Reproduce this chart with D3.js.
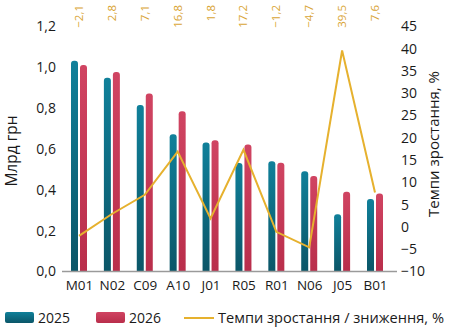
<!DOCTYPE html>
<html><head><meta charset="utf-8">
<script src="https://cdn.jsdelivr.net/npm/d3@7"></script>
<style>body{margin:0;background:#fff}svg{display:block;font-family:"Open Sans",sans-serif}</style>
</head><body><svg id="c" width="449" height="331"></svg>
<script>
const categories = ["M01","N02","C09","A10","J01","R05","R01","N06","J05","B01"];
const values2025 = [1.03,0.947,0.813,0.67,0.63,0.529,0.537,0.488,0.278,0.353];
const values2026 = [1.009,0.975,0.87,0.782,0.64,0.62,0.53,0.465,0.388,0.38];
const growth = [-2.1,2.8,7.1,16.8,1.8,17.2,-1.2,-4.7,39.5,7.6];
const leftTicks = [0,0.2,0.4,0.6,0.8,1.0,1.2];
const rightTicks = [-10,-5,0,5,10,15,20,25,30,35,40,45];
const seriesNames = ["2025","2026"];
const lineName = "Темпи зростання / зниження, %";

const svg = d3.select("#c");
const fmt = v => d3.format(".1f")(v).replace(".",",").replace("-","−");
const fmtInt = v => String(v).replace("-","−");

const x = d3.scalePoint().domain(categories).range([79,375]);
const y = d3.scaleLinear().domain([0,1.2]).range([271,26]);
const y2 = d3.scaleLinear().domain([-10,45]).range([271,26]);

const defs = svg.append("defs");
function grad(id, top, bot){
  const g = defs.append("linearGradient").attr("id",id).attr("x1",0).attr("y1",0).attr("x2",0).attr("y2",1);
  g.append("stop").attr("offset","0%").attr("stop-color",top);
  g.append("stop").attr("offset","100%").attr("stop-color",bot);
}
grad("gT","#10809a","#0b5668");
grad("gR","#d04462","#b92e4b");

const bw = 7, r = 3;
function barPath(x0, yTop, yBot){
  return `M${x0},${yBot}V${yTop+r}Q${x0},${yTop} ${x0+r},${yTop}H${x0+bw-r}Q${x0+bw},${yTop} ${x0+bw},${yTop+r}V${yBot}Z`;
}
const bars = svg.append("g");
categories.forEach((c,i)=>{
  const cx = x(c);
  bars.append("path").attr("d", barPath(cx-8, y(values2025[i]), y(0))).attr("fill","url(#gT)");
  bars.append("path").attr("d", barPath(cx+1, y(values2026[i]), y(0))).attr("fill","url(#gR)");
});

// baseline
svg.append("line").attr("x1",62).attr("x2",397).attr("y1",y(0)+0.5).attr("y2",y(0)+0.5)
  .attr("stroke","#9a9a9a").attr("stroke-width",1.5);

// line
svg.append("path").datum(growth)
  .attr("d", d3.line().x((d,i)=>x(categories[i])).y(d=>y2(d)))
  .attr("fill","none").attr("stroke","#e6b12e").attr("stroke-width",2);

// top labels
svg.append("g").selectAll("text").data(growth).join("text")
  .attr("transform",(d,i)=>`translate(${x(categories[i])+4},5) rotate(-90)`)
  .attr("text-anchor","end").attr("font-size",11.5).attr("fill","#d9a535")
  .text(d=>fmt(d));

// left axis
const la = svg.append("g").attr("transform","translate(62,0)")
  .call(d3.axisLeft(y).tickValues(leftTicks).tickSize(0).tickPadding(6).tickFormat(fmt));
la.select(".domain").remove();
la.selectAll("text").attr("font-size",14).attr("fill","#1a1a1a").attr("font-family","Open Sans").attr("dy","0.35em");

// right axis
const ra = svg.append("g").attr("transform","translate(397,0)")
  .call(d3.axisRight(y2).tickValues(rightTicks).tickSize(0).tickPadding(4).tickFormat(fmtInt));
ra.select(".domain").remove();
ra.selectAll("text").attr("font-size",14).attr("fill","#1a1a1a").attr("font-family","Open Sans").attr("dy","0.35em");

// x axis labels
const xa = svg.append("g").attr("transform",`translate(0,${y(0)})`)
  .call(d3.axisBottom(x).tickSize(0).tickPadding(9));
xa.select(".domain").remove();
xa.selectAll("text").attr("font-size",13.5).attr("fill","#1a1a1a").attr("font-family","Open Sans").attr("dy","0.71em");

// axis titles
svg.append("text").attr("transform","translate(17,151) rotate(-90)").attr("text-anchor","middle")
  .attr("font-size",15.5).attr("fill","#1a1a1a").text("Млрд грн");
svg.append("text").attr("transform","translate(439,144) rotate(-90)").attr("text-anchor","middle")
  .attr("font-size",15).attr("fill","#1a1a1a").text("Темпи зростання, %");

// legend
const lg = svg.append("g");
lg.append("rect").attr("x",5).attr("y",312).attr("width",29).attr("height",11).attr("rx",2).attr("fill","url(#gT)");
lg.append("text").attr("x",38).attr("y",323).attr("font-size",14).attr("fill","#1a1a1a").text(seriesNames[0]);
lg.append("rect").attr("x",96).attr("y",312).attr("width",29).attr("height",11).attr("rx",2).attr("fill","url(#gR)");
lg.append("text").attr("x",129).attr("y",323).attr("font-size",14).attr("fill","#1a1a1a").text(seriesNames[1]);
lg.append("line").attr("x1",184).attr("x2",214).attr("y1",318).attr("y2",318).attr("stroke","#e6b12e").attr("stroke-width",2);
lg.append("text").attr("x",218).attr("y",323).attr("font-size",14.6).attr("fill","#1a1a1a").text(lineName);
</script></body></html>
